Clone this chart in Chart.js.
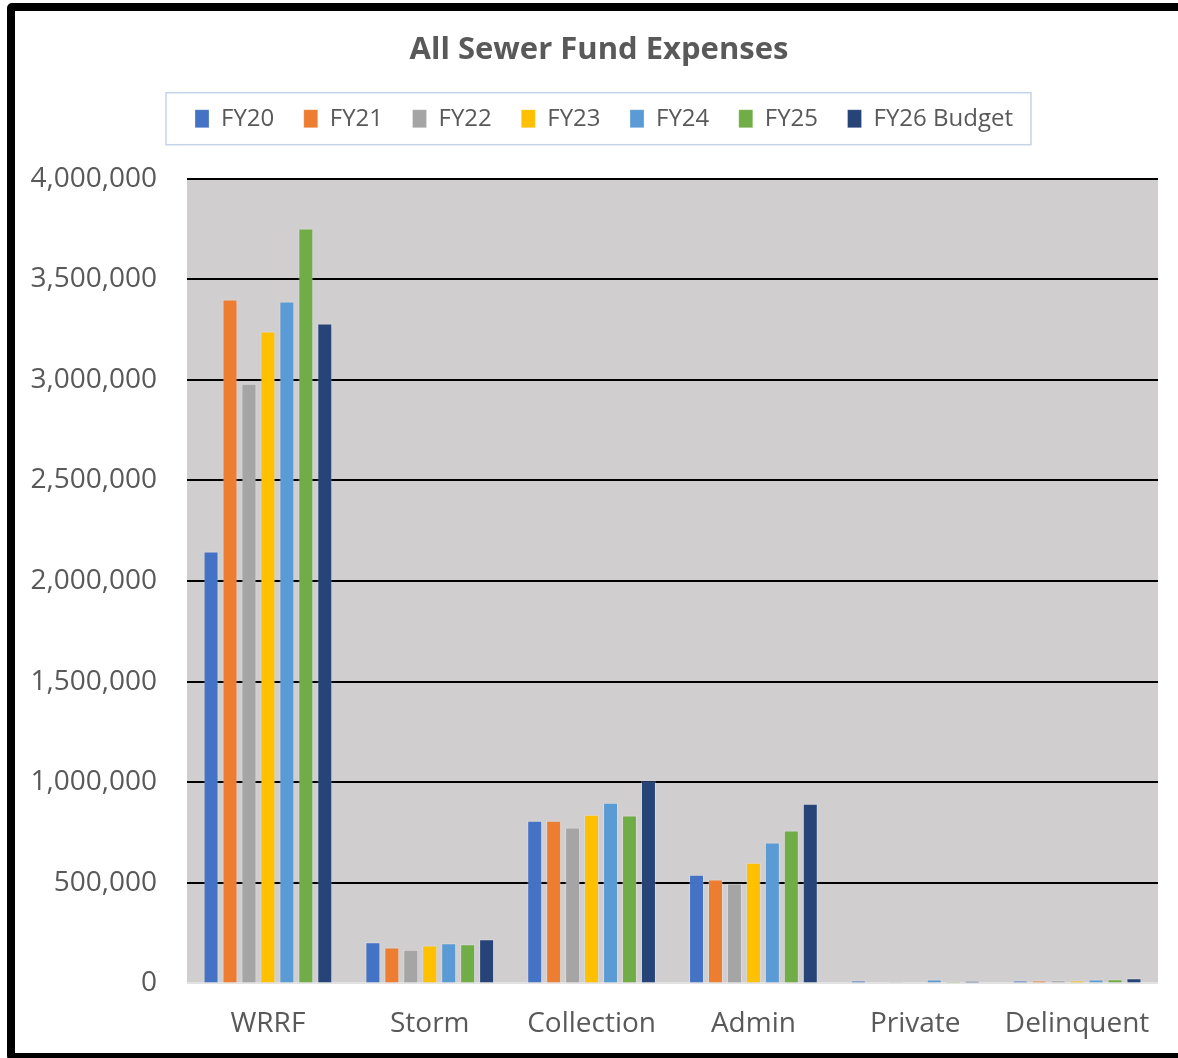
<!DOCTYPE html>
<html>
<head>
<meta charset="utf-8">
<script src="https://cdn.jsdelivr.net/npm/chart.js@4"></script>
<style>
    html, body { margin: 0; padding: 0; background: #fff; overflow: hidden; }
    #wrap { position: relative; width: 1178px; height: 1058px; }
    #frame {
        position: absolute; left: 7px; top: 3px; width: 1200px; height: 1058px;
        box-sizing: border-box; border: 8px solid #000; border-radius: 5px; pointer-events: none;
    }
</style>
</head>
<body>
<div id="wrap">
    <canvas id="chart-expenses" width="1178" height="1058"></canvas>
    <div id="frame"></div>
</div>
<script>
const categories = ['WRRF', 'Storm', 'Collection', 'Admin', 'Private', 'Delinquent'];
const seriesNames = ['FY20', 'FY21', 'FY22', 'FY23', 'FY24', 'FY25', 'FY26 Budget'];
const fy20 = [2147000, 204000, 808000, 540000, 15000, 15000];
const fy21 = [3399000, 179000, 808000, 517000, 3000, 15000];
const fy22 = [2981000, 167000, 775000, 497000, 1000, 16000];
const fy23 = [3240000, 189000, 838000, 600000, 3000, 15000];
const fy24 = [3389000, 199000, 898000, 700000, 20000, 20000];
const fy25 = [3752000, 194000, 835000, 760000, 10000, 21000];
const fy26 = [3280000, 219000, 1009000, 893000, 11000, 25000];
const yTicks = [0, 500000, 1000000, 1500000, 2000000, 2500000, 3000000, 3500000, 4000000];

const seriesValues = [fy20, fy21, fy22, fy23, fy24, fy25, fy26];
const seriesColors = ['#4472c4', '#ed7d31', '#a5a5a5', '#ffc000', '#5b9bd5', '#70ad47', '#264478'];
const textColor = '#595959';
const fontFamily = "'Open Sans', sans-serif";

// grey plot background, light frame round the legend,
// and a small shift of title + legend so they sit centred like the original
const chartDecor = {
    id: 'chartDecor',
    afterLayout(chart) {
        if (chart.titleBlock) chart.titleBlock.left += 40;
        if (chart.legend) chart.legend.left += 50;
    },
    beforeDraw(chart) {
        const { ctx, chartArea } = chart;
        ctx.save();
        ctx.fillStyle = '#d0cece';
        ctx.fillRect(chartArea.left, chartArea.top, chartArea.right - chartArea.left, chartArea.bottom - chartArea.top);
        ctx.restore();
    },
    afterDraw(chart) {
        const boxes = chart.legend.legendHitBoxes;
        if (!boxes || !boxes.length) return;
        const left = boxes[0].left - 29;
        const last = boxes[boxes.length - 1];
        const right = last.left + last.width + 18;
        const mid = boxes[0].top + boxes[0].height / 2;
        const { ctx } = chart;
        ctx.save();
        ctx.strokeStyle = '#c5d2e8';
        ctx.lineWidth = 1.5;
        ctx.strokeRect(left, mid - 26, right - left, 52);
        ctx.restore();
    }
};

const ctx = document.getElementById('chart-expenses').getContext('2d');
new Chart(ctx, {
    type: 'bar',
    data: {
        labels: categories,
        datasets: seriesNames.map((name, i) => ({
            label: name,
            data: seriesValues[i],
            backgroundColor: seriesColors[i],
            borderColor: 'rgba(255,255,255,0.25)',
            borderWidth: 1,
            barPercentage: 0.79,
            categoryPercentage: 0.82
        }))
    },
    options: {
        responsive: false,
        animation: false,
        layout: { padding: { top: 0, right: 20, bottom: -7, left: 0 } },
        plugins: {
            title: {
                display: true,
                text: 'All Sewer Fund Expenses',
                color: textColor,
                font: { family: fontFamily, size: 31, weight: 'bold' },
                padding: { top: 32, bottom: 8 }
            },
            // empty subtitle used as a gap between legend and plot
            subtitle: {
                display: true,
                text: ' ',
                weight: 500,
                font: { size: 10 },
                padding: { top: 13, bottom: 13 }
            },
            legend: {
                position: 'top',
                labels: {
                    color: textColor,
                    font: { family: fontFamily, size: 24 },
                    boxWidth: 14,
                    boxHeight: 18,
                    padding: 29.5
                }
            },
            tooltip: { enabled: false }
        },
        scales: {
            x: {
                grid: { display: false, drawTicks: false },
                border: { display: false },
                ticks: {
                    color: textColor,
                    font: { family: fontFamily, size: 28 },
                    padding: 24,
                    maxRotation: 0
                }
            },
            y: {
                min: 0,
                max: 4000000,
                afterFit: (scale) => { scale.width = 187; },
                afterBuildTicks: (scale) => { scale.ticks = yTicks.map(v => ({ value: v })); },
                border: { display: false },
                grid: {
                    drawTicks: false,
                    lineWidth: 2,
                    color: (c) => c.tick && c.tick.value === 0 ? '#e2e2e2' : '#000000'
                },
                ticks: {
                    color: textColor,
                    font: { family: fontFamily, size: 28 },
                    padding: 30,
                    callback: (v) => Number(v).toLocaleString('en-US')
                }
            }
        }
    },
    plugins: [chartDecor]
});
</script>
</body>
</html>
